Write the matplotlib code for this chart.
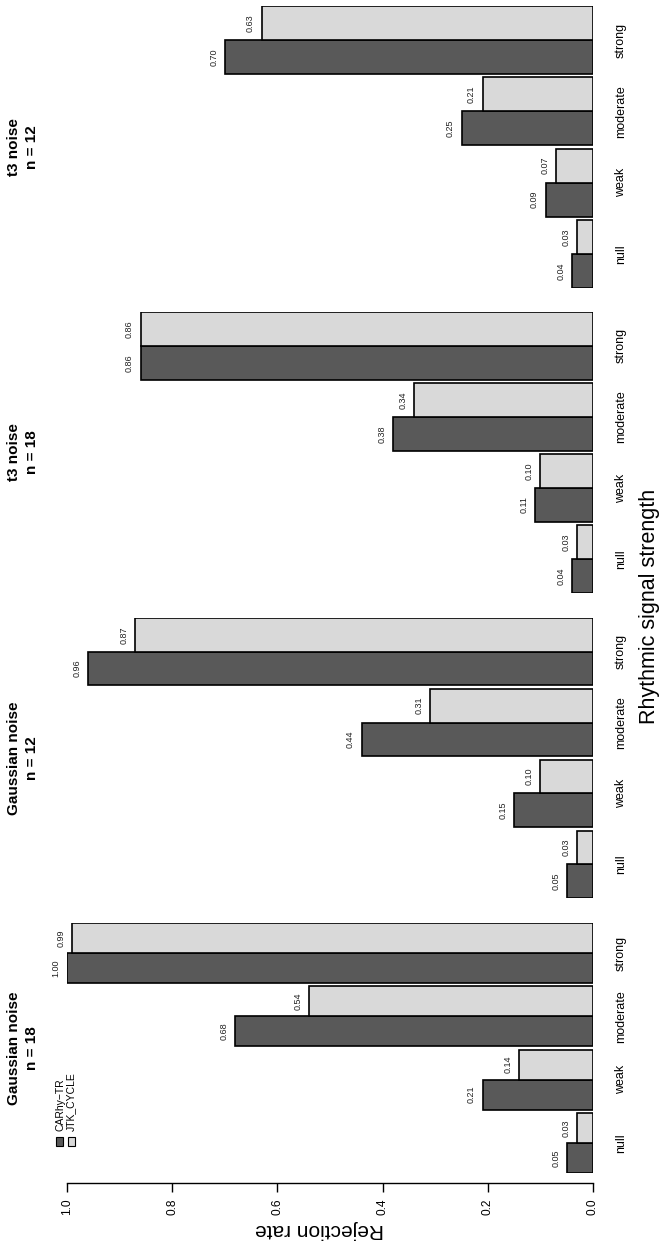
import numpy as np
import matplotlib.pyplot as plt
from matplotlib.patches import Rectangle

plt.rcParams['font.family'] = ['Liberation Sans', 'DejaVu Sans']

# Data (rejection rates per rhythmic signal strength)
categories = ["null", "weak", "moderate", "strong"]
panel_titles = ["Gaussian noise\nn = 18", "Gaussian noise\nn = 12",
                "t3 noise\nn = 18", "t3 noise\nn = 12"]
carhy = [
    [0.05, 0.21, 0.68, 1.00],
    [0.05, 0.15, 0.44, 0.96],
    [0.04, 0.11, 0.38, 0.86],
    [0.04, 0.09, 0.25, 0.70],
]
jtk = [
    [0.03, 0.14, 0.54, 0.99],
    [0.03, 0.10, 0.31, 0.87],
    [0.03, 0.10, 0.34, 0.86],
    [0.03, 0.07, 0.21, 0.63],
]
series_names = ["CARhy\u2212TR", "JTK_CYCLE"]
ticks = [0.0, 0.2, 0.4, 0.6, 0.8, 1.0]

dark = "#595959"
light = "#d9d9d9"

W, H = 667, 1246
fig = plt.figure(figsize=(W / 100, H / 100), dpi=100)


def px_rect(x0, y0, x1, y1):
    # pixel box (top-left origin) -> figure fraction
    return [x0 / W, 1 - y1 / H, (x1 - x0) / W, (y1 - y0) / H]


# vertical pixel extents of each panel (rotated layout: panel 1 at bottom)
panel_spans = [(923, 1173), (618, 898), (312, 593), (6, 288)]
x_left, x_right = 67, 593

gap = 0.1
group_start = np.arange(4) * (2 + gap)
pos_dark = group_start + 0.5
pos_light = group_start + 1.5
centers = group_start + 1.0

for k in range(4):
    y0, y1 = panel_spans[k]
    ax = fig.add_axes(px_rect(x_left, y0, x_right, y1))
    ax.barh(pos_dark, carhy[k], height=1.0, color=dark, edgecolor="black", linewidth=1.2)
    ax.barh(pos_light, jtk[k], height=1.0, color=light, edgecolor="black", linewidth=1.2)
    for p, v in zip(pos_dark, carhy[k]):
        ax.text(v + 0.021, p, f"{v:.2f}", rotation=90, ha="center", va="center",
                fontsize=6.5, color="#222222", clip_on=False)
    for p, v in zip(pos_light, jtk[k]):
        ax.text(v + 0.021, p, f"{v:.2f}", rotation=90, ha="center", va="center",
                fontsize=6.5, color="#222222", clip_on=False)
    ax.set_xlim(1.0, 0.0)
    ax.set_ylim(0, 4 * 2 + 3 * gap)

    ax.set_yticks(centers)
    ax.set_yticklabels(categories, rotation=90, ha="center", va="center", fontsize=9)
    ax.yaxis.tick_right()
    ax.tick_params(axis="y", length=0, pad=20)

    for s in ["top", "left", "right"]:
        ax.spines[s].set_visible(False)

    if k == 0:
        ax.spines["bottom"].set_position(("outward", 7.2))
        ax.spines["bottom"].set_bounds(0.0, 1.0)
        ax.spines["bottom"].set_linewidth(1.0)
        ax.set_xticks(ticks)
        ax.set_xticklabels([f"{t:.1f}" for t in ticks], rotation=90, fontsize=8.6)
        ax.tick_params(axis="x", length=6.5, width=1.0, pad=5)
    else:
        ax.spines["bottom"].set_visible(False)
        ax.set_xticks([])

    yc = (y0 + y1) / 2
    fig.text(23 / W, 1 - yc / H, panel_titles[k], rotation=90, ha="center", va="center",
             fontsize=11, fontweight="bold", linespacing=1.3, multialignment="center")

# legend (drawn rotated like the rest of the chart)
for i, (c, name) in enumerate(zip([dark, light], series_names)):
    xc = 60 + 11 * i
    fig.add_artist(Rectangle(((xc - 3.5) / W, 1 - 1146 / H), 7 / W, 9 / H,
                             transform=fig.transFigure, facecolor=c,
                             edgecolor="black", linewidth=0.8))
    fig.text(xc / W, 1 - 1131 / H, name, rotation=90, ha="center", va="bottom",
             fontsize=7.5)

fig.text(320 / W, 1 - 1230 / H, "Rejection rate", rotation=180, ha="center",
         va="center", fontsize=15)
fig.text(650 / W, 1 - 606 / H, "Rhythmic signal strength", rotation=90, ha="center",
         va="center", fontsize=15.5)

fig.savefig("out.png", dpi=100)
